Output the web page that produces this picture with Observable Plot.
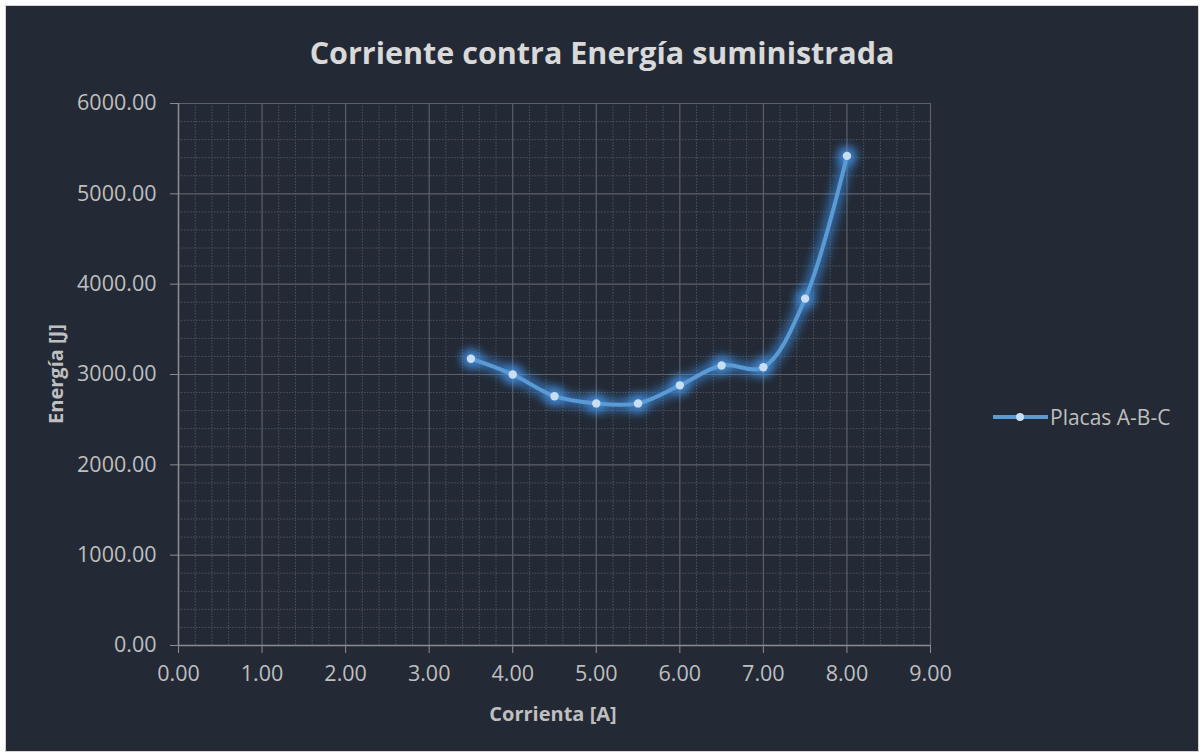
<!DOCTYPE html>
<html><head><meta charset="utf-8">
<script src="https://cdn.jsdelivr.net/npm/d3@7"></script>
<script src="https://cdn.jsdelivr.net/npm/@observablehq/plot@0.6"></script>
<style>
body{margin:0;background:#ffffff;font-family:"Open Sans",sans-serif;}
#frame{position:absolute;left:5px;top:5px;width:1192px;height:745px;background:#232a36;border:1px solid #d4d4d4;overflow:hidden;}
#title{position:absolute;left:0;width:1192px;top:26px;line-height:40px;text-align:center;color:#d9d9d9;font-weight:700;font-size:30.5px;}
#chart{position:absolute;left:0;top:0;}
.axt{position:absolute;color:#bfbfbf;font-weight:700;font-size:20px;white-space:nowrap;line-height:24px;}
#ylab{left:50px;top:368px;transform:translate(-50%,-50%) rotate(-90deg);}
#xlab{left:547px;top:708px;transform:translate(-50%,-50%);}
#legend{position:absolute;left:986px;top:398px;height:26px;display:flex;align-items:center;color:#bfbfbf;font-size:21px;}
#legend svg{margin-right:1px;}
</style></head>
<body>
<div id="frame">
  <div id="chart"></div>
  <div id="title">Corriente contra Energía suministrada</div>
  <div id="ylab" class="axt">Energía [J]</div>
  <div id="xlab" class="axt">Corrienta [A]</div>
  <div id="legend"><svg width="57" height="12"><line x1="1" x2="56" y1="6" y2="6" stroke="#5b9bd5" stroke-width="4"/><circle cx="28" cy="6" r="4" fill="#c9def2"/></svg><span>Placas A-B-C</span></div>
</div>
<script>
const corriente = [3.5, 4.0, 4.5, 5.0, 5.5, 6.0, 6.5, 7.0, 7.5, 8.0];
const energia = [3175, 3000, 2760, 2680, 2680, 2880, 3100, 3080, 3840, 5420];
const xTicks = [0, 1, 2, 3, 4, 5, 6, 7, 8, 9];
const yTicks = [0, 1000, 2000, 3000, 4000, 5000, 6000];
const xMinor = xTicks.slice(0, -1).flatMap(t => [0.2, 0.4, 0.6, 0.8].map(f => t + f));
const yMinor = yTicks.slice(0, -1).flatMap(t => [200, 400, 600, 800].map(f => t + f));

const data = corriente.map((c, i) => ({corriente: c, energia: energia[i]}));
const fmt = d3.format(".2f");

const plot = Plot.plot({
  width: 1192,
  height: 745,
  marginLeft: 172,
  marginRight: 268,
  marginTop: 97,
  marginBottom: 106,
  style: {background: "transparent", fontFamily: "Open Sans, sans-serif", fontSize: "21.5px", color: "#bfbfbf"},
  x: {domain: [0, 9], axis: null},
  y: {domain: [0, 6000], axis: null},
  marks: [
    Plot.gridX(xMinor, {stroke: "#4f545c", strokeOpacity: 1, strokeDasharray: "1.5,1.5"}),
    Plot.gridY(yMinor, {stroke: "#4f545c", strokeOpacity: 1, strokeDasharray: "1.5,1.5"}),
    Plot.gridX(xTicks, {stroke: "#5c6068", strokeOpacity: 1, strokeWidth: 1.2}),
    Plot.gridY(yTicks, {stroke: "#5c6068", strokeOpacity: 1, strokeWidth: 1.2}),
    Plot.ruleX([0], {stroke: "#8c8c8c", strokeWidth: 1.5}),
    Plot.ruleY([0], {stroke: "#8c8c8c", strokeWidth: 1.5}),
    Plot.axisX(xTicks, {tickFormat: fmt, tickSize: 8, tickPadding: 12, stroke: "#8c8c8c", fill: "#bfbfbf", fontSize: 21.5, label: null}),
    Plot.axisY(yTicks, {tickFormat: fmt, tickSize: 8, tickPadding: 14, stroke: "#8c8c8c", fill: "#bfbfbf", fontSize: 21.5, label: null}),
    Plot.line(data, {x: "corriente", y: "energia", curve: "catmull-rom", stroke: "#3d8fe6", strokeWidth: 13, strokeOpacity: 0.6}),
    Plot.dot(data, {x: "corriente", y: "energia", r: 10, fill: "#4a9bef", fillOpacity: 0.65}),
    Plot.line(data, {x: "corriente", y: "energia", curve: "catmull-rom", stroke: "#5b9bd5", strokeWidth: 4}),
    Plot.dot(data, {x: "corriente", y: "energia", r: 4.2, fill: "#c9def2", stroke: "none"})
  ]
});

plot.querySelectorAll('g[stroke-width="13"], g[fill-opacity="0.65"]').forEach(g => {
  g.style.filter = "blur(5px)";
});

document.getElementById("chart").appendChild(plot);
</script>
</body></html>
